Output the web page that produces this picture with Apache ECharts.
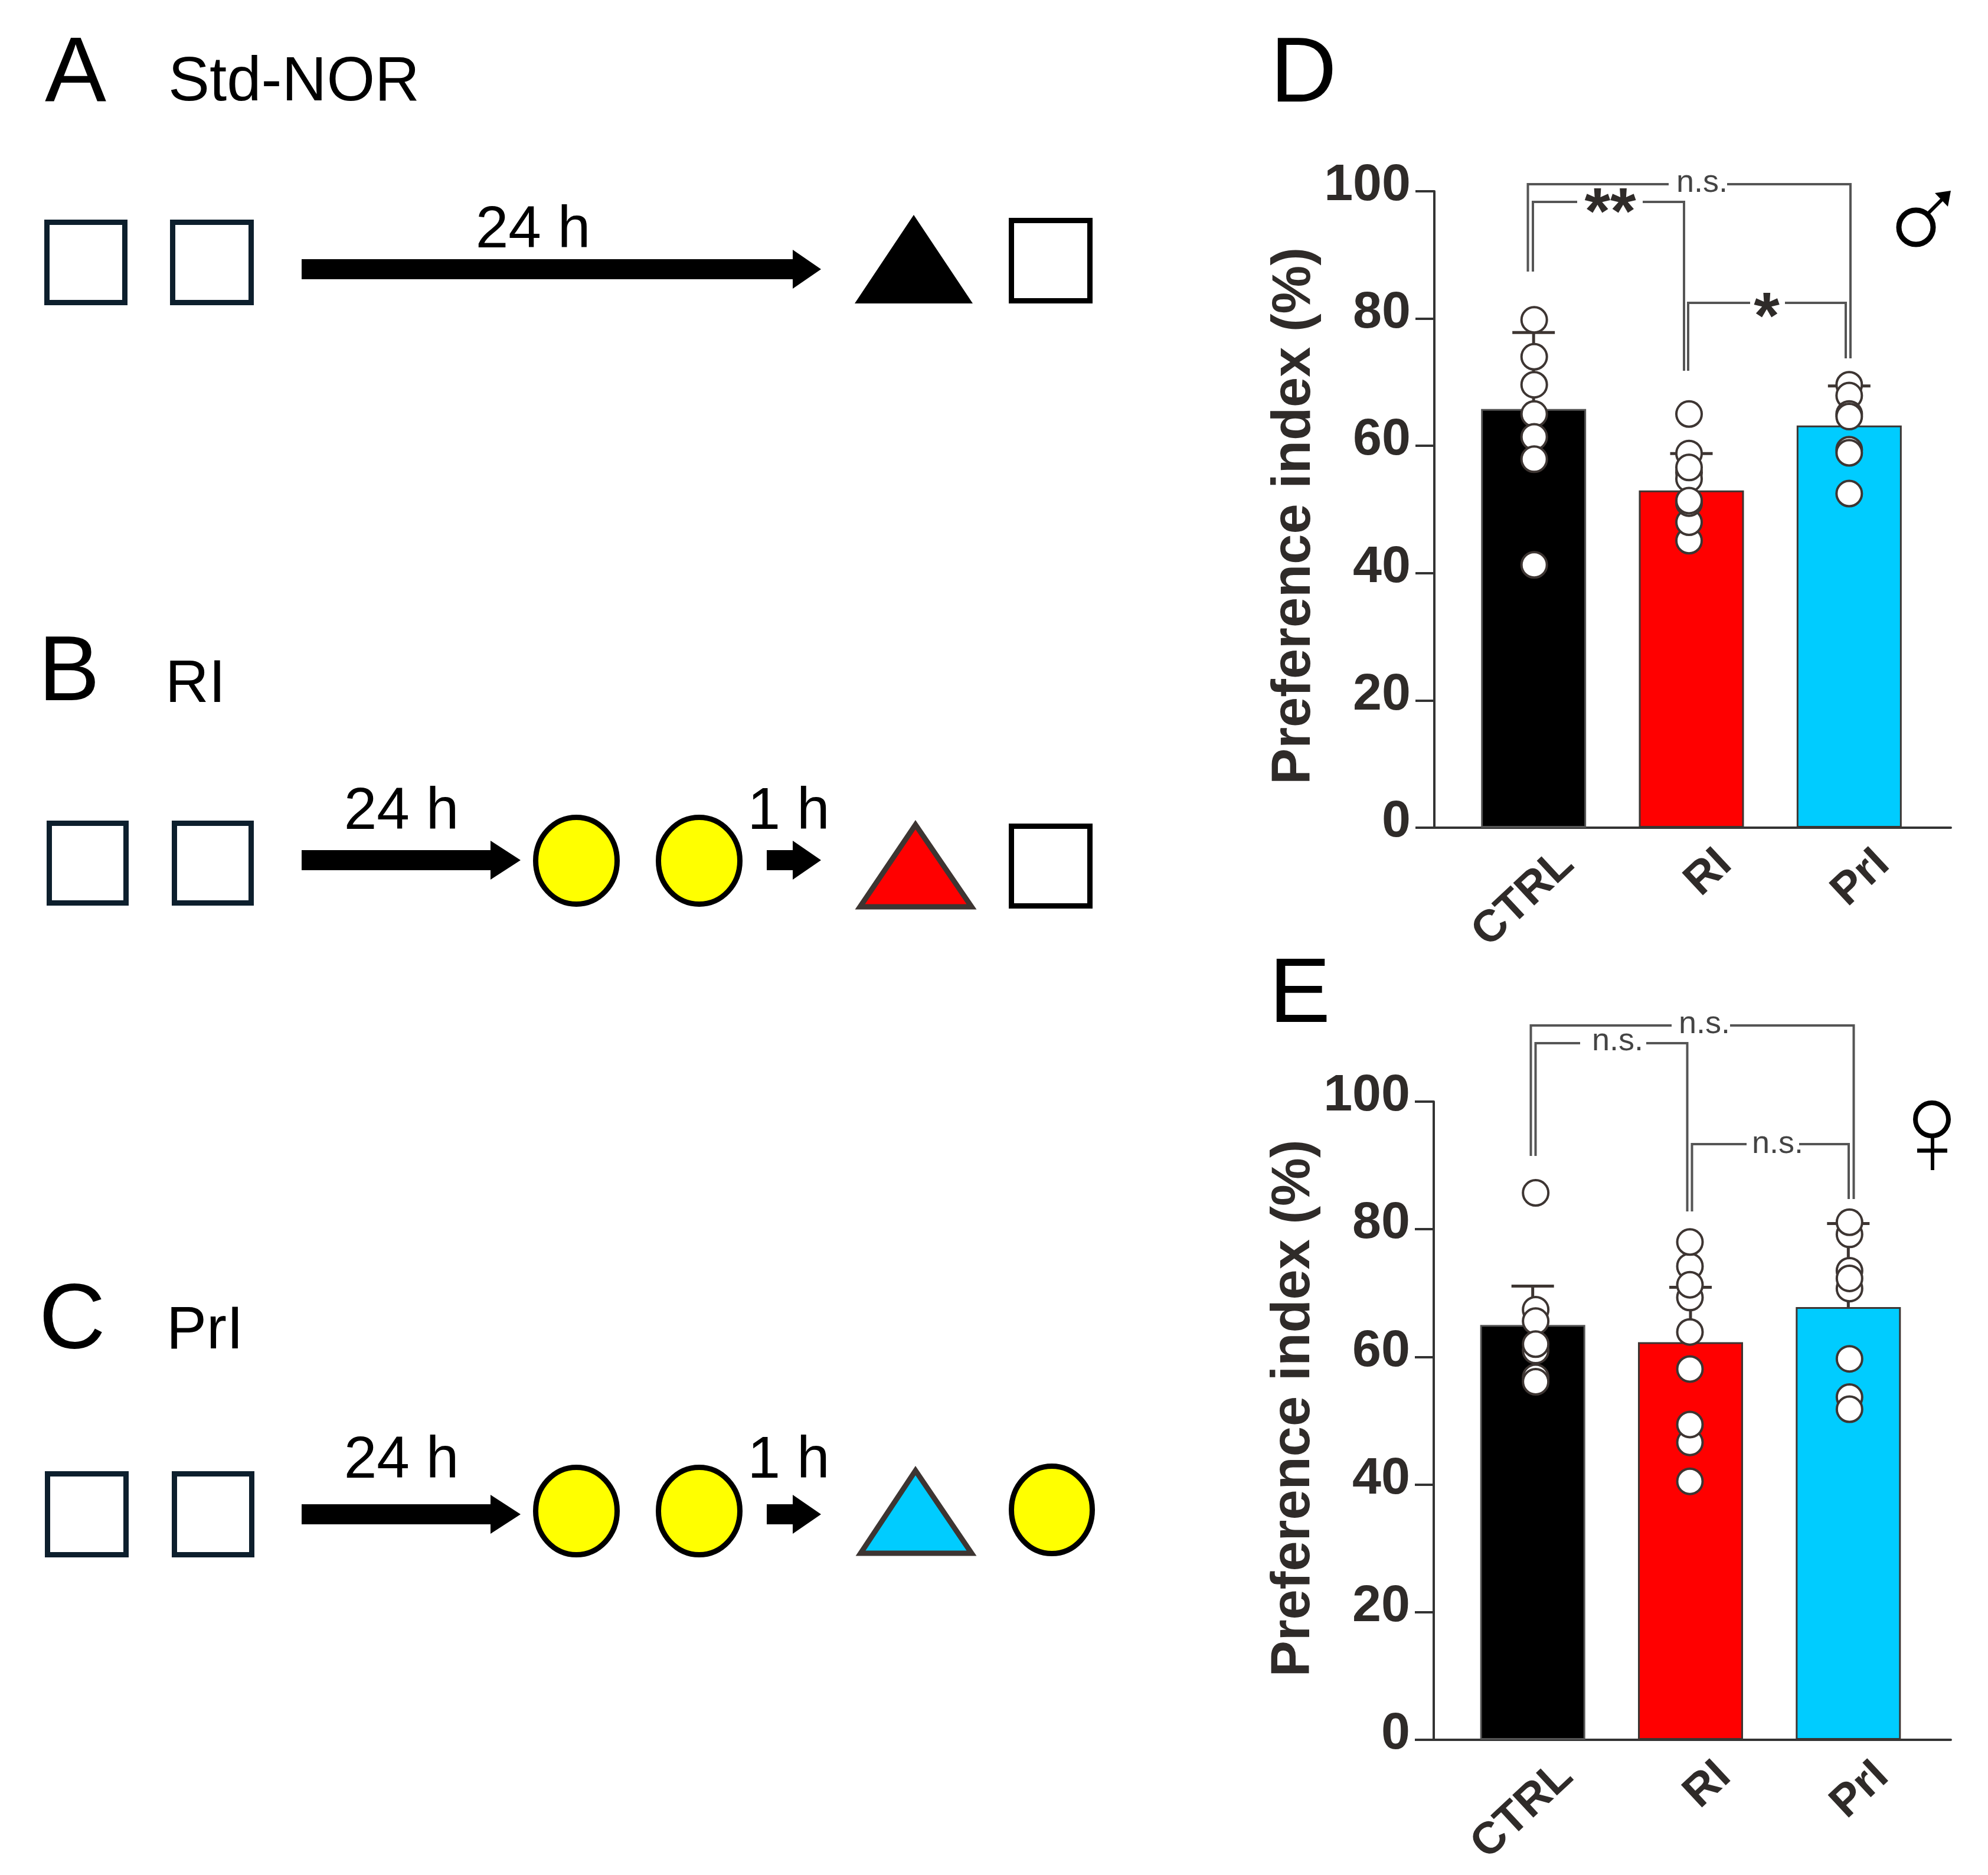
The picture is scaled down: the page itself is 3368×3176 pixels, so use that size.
<!DOCTYPE html>
<html>
<head>
<meta charset="utf-8">
<script src="https://cdn.jsdelivr.net/npm/echarts@6/dist/echarts.min.js"></script>
<style>
html, body { margin: 0; padding: 0; background: #fff; }
#main { width: 3368px; height: 3176px; }
</style>
</head>
<body>
<div id="main"></div>
<script>
// values
const categories = ['CTRL', 'RI', 'PrI']

const maleMeans = [65.8, 53.0, 63.2]
const maleErrTop = [77.8, 58.8, 69.4]
const maleCtrl = [79.8, 74.0, 69.6, 65.0, 61.4, 57.9, 41.3]
const maleRi = [65.0, 58.8, 55.8, 54.8, 56.6, 45.1, 48.0, 51.0, 51.4]
const malePrl = [69.6, 67.9, 65.0, 64.6, 59.4, 58.9, 52.5]

const femaleMeans = [65.0, 62.3, 67.8]
const femaleErrTop = [71.1, 70.9, 80.9]
const femaleCtrl = [85.7, 67.4, 61.0, 65.6, 62.0, 56.8, 56.1]
const femaleRi = [74.2, 78.0, 69.3, 71.3, 63.9, 58.1, 46.6, 49.4, 40.5]
const femalePrl = [79.2, 81.1, 70.7, 73.5, 72.3, 59.7, 53.7, 51.8]

const barColors = ['#000000', '#ff0000', '#00ccff']
const FONT = '"Liberation Sans", Arial, sans-serif'
const INK = '#2f2b29'
const EDGE = '#3d3532'
const GRAY = '#555555'

// ---- plain drawing helpers for the schematic and the brackets ----
function txt(x, baseline, text, size, opt) {
    opt = opt || {}
    return {
        type: 'text', silent: true, z: 20,
        x: x, y: baseline - size * 0.30,
        style: {
            text: text, fill: opt.fill || '#000',
            font: (opt.weight || 'normal') + ' ' + size + 'px ' + FONT,
            textAlign: opt.align || 'left', textVerticalAlign: 'middle', verticalAlign: 'middle'
        }
    }
}
function box(x0, y0, x1, y1, color) {
    const w = 9
    return {
        type: 'rect', silent: true, z: 20,
        shape: { x: x0 + w / 2, y: y0 + w / 2, width: x1 - x0 - w, height: y1 - y0 - w },
        style: { fill: '#fff', stroke: color, lineWidth: w }
    }
}
function disc(x0, y0, x1, y1) {
    const w = 9
    return {
        type: 'ellipse', silent: true, z: 20,
        shape: { cx: (x0 + x1) / 2, cy: (y0 + y1) / 2, rx: (x1 - x0 - w) / 2, ry: (y1 - y0 - w) / 2 },
        style: { fill: '#ffff00', stroke: '#000', lineWidth: w }
    }
}
function tri(x0, x1, apexX, apexY, baseY, fill, stroke) {
    return {
        type: 'polygon', silent: true, z: 20,
        shape: { points: [[apexX, apexY], [x1, baseY], [x0, baseY]] },
        style: { fill: fill, stroke: stroke, lineWidth: stroke ? 9 : 0, lineJoin: 'miter' }
    }
}
function arrow(x0, x1, headX, midY) {
    return {
        type: 'polygon', silent: true, z: 20,
        shape: { points: [[x0, midY - 17], [headX, midY - 17], [headX, midY - 33], [x1, midY],
            [headX, midY + 33], [headX, midY + 17], [x0, midY + 17]] },
        style: { fill: '#000' }
    }
}
function bracket(points) {
    return {
        type: 'polyline', silent: true, z: 20,
        shape: { points: points },
        style: { fill: null, stroke: GRAY, lineWidth: 4 }
    }
}
function ns(x, baseline) {
    return txt(x, baseline, 'n.s.', 54, { fill: '#444' })
}

const navy = '#0d1f2d'
const schematic = [
    // A
    txt(76, 175, 'A', 156), txt(285, 173, 'Std-NOR', 105),
    box(75, 372, 216, 517, navy), box(288, 372, 430, 517, navy),
    arrow(511, 1391, 1343, 456), txt(903, 421, '24 h', 100, { align: 'center' }),
    tri(1448, 1648, 1548, 364, 514, '#000', null),
    box(1709, 369, 1851, 514, '#000'),
    // B
    txt(65, 1190, 'B', 156), txt(280, 1191, 'RI', 102),
    box(79, 1390, 218, 1534, navy), box(291, 1390, 430, 1534, navy),
    arrow(511, 882, 831, 1457), txt(680, 1406, '24 h', 100, { align: 'center' }),
    disc(903, 1380, 1050, 1536), disc(1111, 1380, 1258, 1536),
    arrow(1299, 1391, 1343, 1457), txt(1336, 1406, '1 h', 100, { align: 'center' }),
    tri(1457, 1646, 1551, 1397, 1536, '#ff0000', EDGE),
    box(1709, 1395, 1851, 1539, '#000'),
    // C
    txt(66, 2287, 'C', 156), txt(282, 2286, 'PrI', 102),
    box(76, 2492, 218, 2638, navy), box(291, 2492, 431, 2638, navy),
    arrow(511, 882, 831, 2565), txt(680, 2505, '24 h', 100, { align: 'center' }),
    disc(903, 2481, 1050, 2638), disc(1111, 2481, 1258, 2638),
    arrow(1299, 1391, 1343, 2565), txt(1336, 2505, '1 h', 100, { align: 'center' }),
    tri(1458, 1646, 1551, 2491, 2631, '#00ccff', EDGE),
    disc(1709, 2479, 1855, 2636),
    // D, E letters
    txt(2152, 176, 'D', 156), txt(2150, 1735, 'E', 156),
    // male symbol
    { type: 'circle', silent: true, z: 20, shape: { cx: 3246, cy: 385, r: 29 },
      style: { fill: 'none', stroke: '#000', lineWidth: 9 } },
    { type: 'line', silent: true, z: 20, shape: { x1: 3266, y1: 362, x2: 3294, y2: 334 },
      style: { stroke: '#000', lineWidth: 6 } },
    { type: 'polygon', silent: true, z: 20, shape: { points: [[3305, 323], [3278, 327], [3300, 350]] },
      style: { fill: '#000' } },
    // female symbol
    { type: 'circle', silent: true, z: 20, shape: { cx: 3273, cy: 1896, r: 28 },
      style: { fill: 'none', stroke: '#000', lineWidth: 8 } },
    { type: 'line', silent: true, z: 20, shape: { x1: 3274, y1: 1927, x2: 3274, y2: 1982 },
      style: { stroke: '#000', lineWidth: 6 } },
    { type: 'line', silent: true, z: 20, shape: { x1: 3248, y1: 1949, x2: 3299, y2: 1949 },
      style: { stroke: '#000', lineWidth: 7 } },
    // D significance brackets
    bracket([[2588.5, 460], [2588.5, 312], [2827, 312]]),
    bracket([[2926, 312], [3135, 312], [3135, 607]]),
    ns(2840, 326),
    bracket([[2597, 460], [2597, 342], [2672, 342]]),
    bracket([[2783, 342], [2853, 342], [2853, 628]]),
    txt(2728, 399, '**', 112, { weight: 'bold', fill: INK, align: 'center' }),
    bracket([[2860, 628], [2860, 513], [2965, 513]]),
    bracket([[3024, 513], [3127, 513], [3127, 607]]),
    txt(2993, 576, '*', 112, { weight: 'bold', fill: INK, align: 'center' }),
    // E significance brackets
    bracket([[2593.5, 1958], [2593.5, 1737], [2832, 1737]]),
    bracket([[2931, 1737], [3140.5, 1737], [3140.5, 2031]]),
    ns(2844, 1751),
    bracket([[2601.5, 1958], [2601.5, 1767], [2677, 1767]]),
    bracket([[2789, 1767], [2858.5, 1767], [2858.5, 2052]]),
    ns(2697, 1780),
    bracket([[2866.5, 2052], [2866.5, 1938], [2959, 1938]]),
    bracket([[3048, 1938], [3132, 1938], [3132, 2031]]),
    ns(2968, 1954)
]

// ---- one panel = frame grid (y axis and long x line) + bars grid ----
const grids = []
const xAxes = []
const yAxes = []
const series = []

function addPanel(p) {
    const gi = grids.length
    // frame grid, holds the visible axes
    grids.push({ left: p.axisX, width: 3305 - p.axisX, top: p.top, height: p.bottom - p.top })
    xAxes.push({
        gridIndex: gi, type: 'value', min: 0, max: 1,
        splitLine: { show: false }, axisTick: { show: false }, axisLabel: { show: false },
        axisLine: { show: true, lineStyle: { color: '#333', width: 4 } }
    })
    yAxes.push({
        gridIndex: gi, type: 'value', min: 0, max: 100, interval: 20,
        name: 'Preference index (%)', nameLocation: 'middle', nameGap: 186, nameRotate: 90,
        nameTextStyle: { fontFamily: FONT, fontWeight: 'bold', fontSize: 92, color: INK, padding: p.namePad },
        splitLine: { show: false },
        axisLine: { show: true, onZero: false, lineStyle: { color: '#333', width: 4 } },
        axisTick: { show: true, length: 32, lineStyle: { color: '#333', width: 4 } },
        // labels sit a little above their ticks in the figure
        axisLabel: {
            fontFamily: FONT, fontWeight: 'bold', fontSize: 88, color: INK, margin: 40,
            verticalAlign: 'bottom', lineHeight: 18
        }
    })
    // bars grid, category scale
    grids.push({ left: p.barLeft, width: 802, top: p.top, height: p.bottom - p.top })
    xAxes.push({
        gridIndex: gi + 1, type: 'category', data: categories,
        axisLine: { show: false }, axisTick: { show: false },
        axisLabel: {
            interval: 0, rotate: 43, align: 'right', verticalAlign: 'middle',
            margin: 104, padding: [0, -78, 0, 0],
            fontFamily: FONT, fontWeight: 'bold', fontSize: 76, color: INK
        }
    })
    yAxes.push({ gridIndex: gi + 1, type: 'value', min: 0, max: 100, show: false, splitLine: { show: false } })

    series.push({
        type: 'bar', xAxisIndex: gi + 1, yAxisIndex: gi + 1, barWidth: 178, z: 2,
        data: p.means.map((v, i) => ({
            value: v,
            itemStyle: { color: barColors[i], borderColor: i === 0 ? '#555' : EDGE, borderWidth: 3 }
        }))
    })
    series.push({
        type: 'custom', xAxisIndex: gi + 1, yAxisIndex: gi + 1, z: 3,
        encode: { x: 0, y: [1, 2] },
        data: p.means.map((v, i) => [i, v, p.errTop[i]]),
        renderItem: function (params, api) {
            const low = api.coord([api.value(0), api.value(1)])
            const high = api.coord([api.value(0), api.value(2)])
            const style = { stroke: EDGE, lineWidth: 5, fill: null }
            return {
                type: 'group',
                children: [
                    { type: 'line', shape: { x1: low[0], y1: low[1], x2: high[0], y2: high[1] }, style: style },
                    { type: 'line', shape: { x1: high[0] - 36, y1: high[1], x2: high[0] + 36, y2: high[1] }, style: style }
                ]
            }
        }
    })
    p.dots.forEach((vals, i) => {
        series.push({
            type: 'scatter', xAxisIndex: gi + 1, yAxisIndex: gi + 1, z: 4,
            symbol: 'circle', symbolSize: 43, symbolOffset: [p.dotShift[i], 0],
            itemStyle: { color: '#fff', borderColor: EDGE, borderWidth: 4, opacity: 1 },
            data: vals.map(v => [i, v])
        })
    })
}

addPanel({
    axisX: 2430, barLeft: 2464.5, top: 324, bottom: 1402, namePad: [0, 22, 0, 0],
    means: maleMeans, errTop: maleErrTop, dots: [maleCtrl, maleRi, malePrl], dotShift: [1, -4, 0]
})
addPanel({
    axisX: 2429, barLeft: 2463, top: 1866, bottom: 2947, namePad: [0, 0, 0, 42],
    means: femaleMeans, errTop: femaleErrTop, dots: [femaleCtrl, femaleRi, femalePrl], dotShift: [5, -1, 2]
})

const chart = echarts.init(document.getElementById('main'))
chart.setOption({
    animation: false,
    backgroundColor: '#fff',
    grid: grids,
    xAxis: xAxes,
    yAxis: yAxes,
    series: series,
    graphic: { elements: schematic }
})
window.addEventListener('resize', () => chart.resize())
</script>
</body>
</html>
